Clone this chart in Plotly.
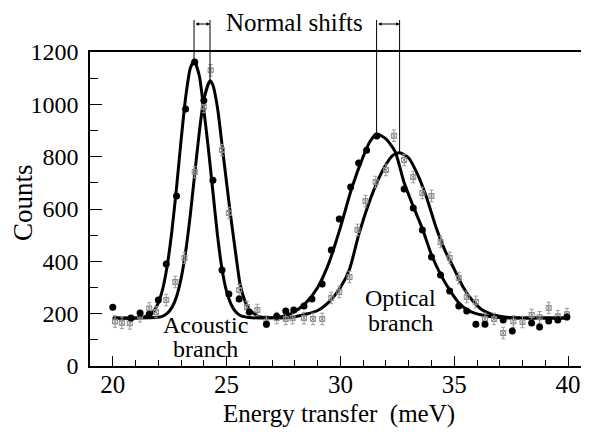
import plotly.graph_objects as go

# ---------------- data ----------------
# filled circles
filled_x = [20.0, 20.8, 21.2, 21.6, 22.0, 22.35, 22.8, 23.2, 23.6, 24.0, 24.4, 24.8, 25.1,
            25.55, 26.0, 26.75, 27.2, 27.6, 27.95, 28.4, 28.75, 29.2, 29.6, 29.95, 30.45,
            30.8, 31.15, 31.6, 32.8, 33.2, 33.6, 34.0, 34.4, 34.8, 35.2, 35.55, 35.95,
            36.35, 37.15, 37.55, 38.4, 38.75, 39.15, 39.55, 39.95]
filled_y = [225, 183, 203, 198, 252, 390, 650, 982, 1162, 1015, 710, 367, 275,
            256, 206, 160, 190, 210, 214, 229, 256, 313, 443, 562, 684,
            776, 825, 879, 676, 604, 520, 417, 348, 287, 229, 210, 160,
            160, 176, 134, 164, 149, 172, 176, 187]

# open squares (with error bars)
open_x = [20.1, 20.4, 20.75, 21.2, 21.6, 21.9, 22.35, 22.75, 23.15, 23.6, 24.0, 24.3,
          24.8, 25.1, 25.55, 25.9, 26.35, 26.75, 27.2, 27.6, 27.9, 28.4, 28.8, 29.2,
          29.6, 29.95, 30.4, 30.75, 31.1, 31.55, 32.0, 32.35, 32.8, 33.2, 33.6, 34.0,
          34.4, 34.8, 35.2, 35.55, 35.95, 36.35, 36.75, 37.15, 37.6, 38.0, 38.4, 38.75,
          39.15, 39.55, 39.95]
open_y = [170, 165, 163, 190, 220, 206, 252, 321, 413, 741, 990, 1130,
          825, 585, 290, 225, 214, 170, 183, 180, 183, 183, 180, 180,
          260, 283, 340, 520, 630, 703, 749, 880, 787, 722, 661, 650,
          474, 413, 336, 264, 245, 180, 180, 126, 170, 168, 195, 186,
          222, 190, 198]

# fitted curves
fit1_x = [20.0, 21.0, 21.6, 21.8, 22.0, 22.2, 22.4, 22.6, 22.8, 23.0, 23.2, 23.4, 23.57,
          23.8, 24.0, 24.2, 24.4, 24.6, 24.8, 25.0, 25.2, 25.4, 25.6, 26.0, 27.0,
          27.5, 28.0, 28.5, 29.0, 29.5, 30.0, 30.5, 31.0, 31.3, 31.59, 32.0, 32.4,
          32.8, 33.2, 33.6, 34.0, 34.4, 34.8, 35.2, 35.6, 36.0, 36.5, 37.0, 38.0, 40.0]
fit1_y = [183, 183, 194, 210, 241, 297, 388, 518, 681, 862, 1025, 1136, 1167,
          1110, 980, 830, 665, 500, 370, 285, 235, 207, 193, 185, 184,
          190, 208, 243, 300, 395, 530, 680, 800, 858, 887, 868, 820,
          700, 610, 525, 425, 350, 290, 242, 213, 199, 190, 185, 183, 183]

fit2_x = [20.0, 22.0, 22.2, 22.4, 22.6, 22.8, 23.0, 23.2, 23.4, 23.6, 23.8, 24.0, 24.27,
          24.4, 24.6, 24.8, 25.0, 25.2, 25.4, 25.6, 25.8, 26.0, 26.4, 27.0, 28.0,
          29.0, 29.5, 30.0, 30.4, 30.8, 31.2, 31.6, 32.0, 32.3, 32.6, 33.0, 33.4,
          33.8, 34.2, 34.6, 35.0, 35.4, 35.8, 36.2, 36.6, 37.0, 37.5, 38.5, 40.0]
fit2_y = [183, 186, 191, 202, 224, 265, 334, 436, 573, 734, 892, 1019, 1090,
          1073, 987, 846, 700, 560, 430, 309, 250, 215, 190, 184, 188,
          212, 245, 300, 370, 500, 610, 700, 770, 805, 815, 795, 730,
          640, 530, 440, 370, 300, 250, 216, 199, 190, 185, 183, 183]

# peak positions marked by the "Normal shifts" lines
peak_x = [23.57, 24.27, 31.59, 32.6]
peak_y = [1167, 1090, 887, 815]

x_range = [19.0, 40.92]
y_range = [0, 1200]

FONT = "Liberation Serif"
# the page body adds an 8px offset; the figure is sized so the plot lands where the reference has it
OFF = 8
W, H = 589 - OFF, 436 - OFF
PL, PT, PR, PB = 90, 52, 589, 366          # plot box in window pixels
ML, MT = PL - OFF, PT - OFF
MR = 0
MB = H - (PB - OFF)
plot_w = PR - PL
plot_h = PB - PT

fig = go.Figure()

fig.add_trace(go.Scatter(x=fit1_x, y=fit1_y, mode="lines", line=dict(color="black", width=3, shape="spline", smoothing=0.6), hoverinfo="skip"))
fig.add_trace(go.Scatter(x=fit2_x, y=fit2_y, mode="lines", line=dict(color="black", width=3, shape="spline", smoothing=0.6), hoverinfo="skip"))
fig.add_trace(go.Scatter(x=open_x, y=open_y, mode="markers",
                         marker=dict(symbol="square-x-open", size=5, color="#8a8a8a", line=dict(width=1)),
                         error_y=dict(type="constant", value=22, color="#999999", thickness=1, width=2)))
fig.add_trace(go.Scatter(x=filled_x, y=filled_y, mode="markers",
                         marker=dict(symbol="circle", size=7, color="black"),
                         error_y=dict(type="constant", value=12, color="black", thickness=1, width=0)))


def px(x):
    return (x - x_range[0]) / (x_range[1] - x_range[0])


def py(y):
    return (y - y_range[0]) / (y_range[1] - y_range[0])


def pix_x(p):
    # window pixel -> paper
    return (p - PL) / plot_w


def pix_y(p):
    return (PB - p) / plot_h


top = pix_y(20)
arrow_y = pix_y(24)
for xv, yv in zip(peak_x, peak_y):
    fig.add_shape(type="line", xref="paper", yref="paper", x0=px(xv), x1=px(xv), y0=py(yv), y1=top,
                  line=dict(color="black", width=1))
for i in (0, 2):
    dx_pix = (px(peak_x[i + 1]) - px(peak_x[i])) * plot_w
    fig.add_annotation(xref="paper", yref="paper",
                       x=px(peak_x[i + 1]), y=arrow_y, ax=-dx_pix, ay=0,
                       text="", showarrow=True, arrowside="end+start", arrowhead=2,
                       arrowsize=0.7, arrowwidth=1, arrowcolor="black", standoff=0, startstandoff=0)

labels = [("Normal shifts", 294, 22, 25, 0),
          ("Acoustic", 205, 325, 24, 0), ("branch", 205, 349, 24, 0),
          ("Optical", 400, 298, 24, 0), ("branch", 400, 323, 24, 0),
          ("Energy transfer\u00a0 (meV)", 339, 414, 25, 0),
          ("Counts", 23, 203, 27, -90)]
for txt, lx, ly, fs, ang in labels:
    fig.add_annotation(xref="paper", yref="paper", x=pix_x(lx), y=pix_y(ly), text=txt,
                       showarrow=False, xanchor="center", yanchor="middle", textangle=ang,
                       borderpad=0, font=dict(family=FONT, size=fs, color="black"))

fig.update_layout(
    width=W, height=H,
    margin=dict(l=ML, r=MR, t=MT, b=MB),
    paper_bgcolor="white", plot_bgcolor="white",
    showlegend=False,
    font=dict(family=FONT, color="black"),
    xaxis=dict(range=x_range, tickvals=[20, 25, 30, 35, 40], ticks="inside", ticklen=10,
               tickwidth=1, tickcolor="black", showline=True, linecolor="black", linewidth=1.5,
               mirror=True, showgrid=False, zeroline=False, automargin=False, ticklabelstandoff=-5,
               minor=dict(dtick=1, ticks="inside", ticklen=6, tickcolor="black", tickwidth=1, showgrid=False),
               tickfont=dict(family=FONT, size=25, color="black")),
    yaxis=dict(range=y_range, dtick=200, ticks="inside", ticklen=12, tickwidth=1, tickcolor="black",
               showline=True, linecolor="black", linewidth=1.5, showgrid=False, zeroline=False,
               automargin=False, ticklabelstandoff=5,
               minor=dict(dtick=100, ticks="inside", ticklen=8, tickcolor="black", tickwidth=1, showgrid=False),
               tickfont=dict(family=FONT, size=24, color="black")),
)

fig.write_html("out.html")
